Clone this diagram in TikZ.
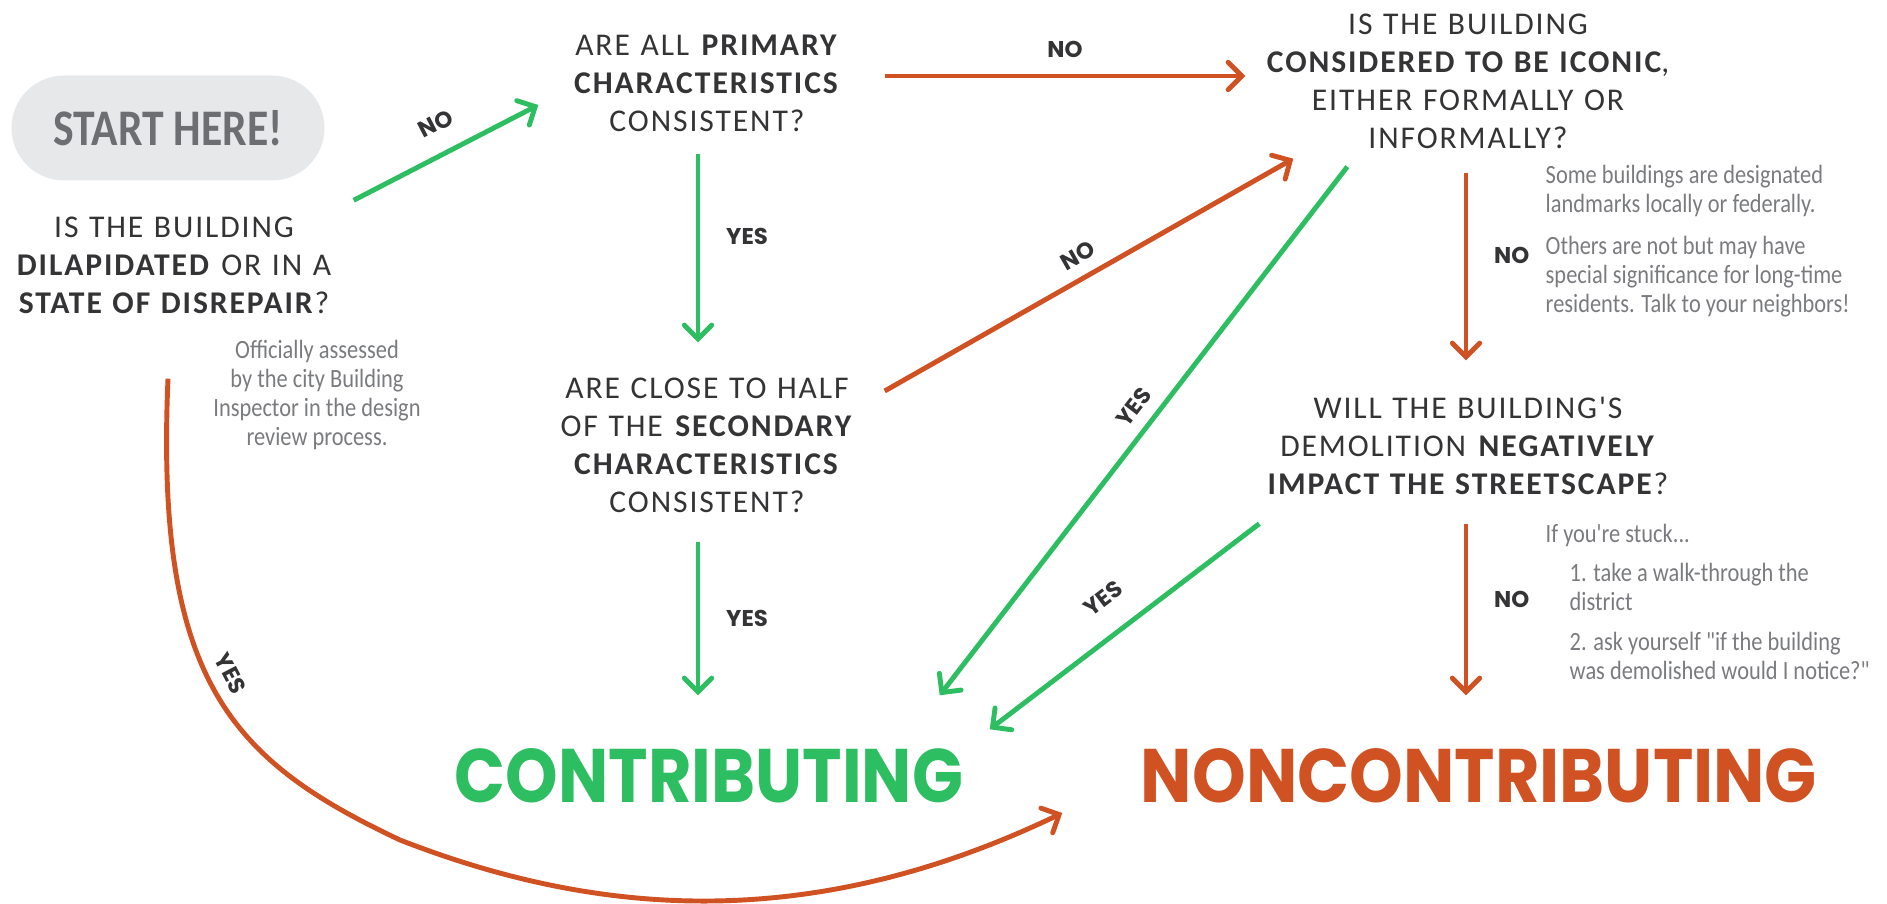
\documentclass[tikz,border=0pt]{standalone}
\usepackage{fontspec}
\usepackage{graphicx}
\setmainfont{Carlito}
\newfontfamily\qfont[LetterSpace=6]{Carlito}
\newfontfamily\notefont[FakeStretch=0.85]{Carlito}
\newfontfamily\labelfont{Poppins}
\usetikzlibrary{arrows}
\definecolor{yesgreen}{RGB}{44,190,96}
\definecolor{noorange}{RGB}{208,82,35}
\definecolor{ink}{RGB}{52,52,54}
\definecolor{notegrey}{RGB}{122,123,126}
\definecolor{startgrey}{RGB}{109,110,113}
\definecolor{pillgrey}{RGB}{231,232,234}

\begin{document}
\begin{tikzpicture}[x=0.1mm,y=-0.1mm,>=angle 90,
    question node/.style={align=center,inner sep=0pt,text=ink,font=\qfont\fontsize{9}{10.8}\selectfont},
    note node/.style={inner sep=0pt,text=notegrey,font=\notefont\fontsize{7.5}{8.2}\selectfont},
    result node/.style={inner sep=0pt,minimum height=16mm,font=\labelfont\bfseries},
    yes edge/.style={->,draw=yesgreen,line width=1.4pt},
    no edge/.style={->,draw=noorange,line width=1.4pt},
    answer/.style={font=\labelfont\bfseries\fontsize{6.5}{7}\selectfont,text=ink}]

  \useasboundingbox (0,0) rectangle (1887,904);

  \node[fill=pillgrey,rounded corners=5.25mm,minimum width=31.3mm,minimum height=10.5mm,
        text=startgrey,font=\notefont\bfseries\fontsize{14.6}{16}\selectfont] (start) at (168,128) {START HERE!};

  \node[question node,text width=35.8mm,minimum height=12.8mm] (dilap) at (174,265)
    {IS THE BUILDING\\ \textbf{DILAPIDATED} OR IN A\\ \textbf{STATE OF DISREPAIR}?};
  \node[question node,text width=35.4mm,minimum height=14mm] (primary) at (707,83)
    {ARE ALL \textbf{PRIMARY}\\ \textbf{CHARACTERISTICS}\\ CONSISTENT?};
  \node[question node,text width=35.4mm,minimum height=20.4mm] (secondary) at (707,445)
    {ARE CLOSE TO HALF\\ OF THE \textbf{SECONDARY}\\ \textbf{CHARACTERISTICS}\\ CONSISTENT?};
  \node[question node,text width=44.4mm,minimum height=18.2mm] (iconic) at (1468,81)
    {IS THE BUILDING\\ \textbf{CONSIDERED TO BE ICONIC},\\ EITHER FORMALLY OR\\ INFORMALLY?};
  \node[question node,text width=44.4mm,minimum height=17mm] (demol) at (1468,446)
    {WILL THE BUILDING'S\\ DEMOLITION \textbf{NEGATIVELY}\\ \textbf{IMPACT THE STREETSCAPE}?};

  % grey side notes
  \node[note node,align=center] (dilapnote) at (317,395)
    {Officially assessed\\ by the city Building\\ Inspector in the design\\ review process.};
  \node[note node,align=left,anchor=west] (iconicnote) at (1545,241)
    {Some buildings are designated\\ landmarks locally or federally.\\[1.4mm]
     Others are not but may have\\ special significance for long-time\\ residents. Talk to your neighbors!};
  \node[note node,align=left,anchor=west] (demolnote) at (1545,602)
    {If you're stuck...\\[1mm]
     \hspace*{2.4mm}1. take a walk-through the\\ \hspace*{2.4mm}district\\[1.2mm]
     \hspace*{2.4mm}2. ask yourself "if the building\\ \hspace*{2.4mm}was demolished would I notice?"};

  \node[result node,text=yesgreen] (contrib) at (709,776) {\resizebox{50.8mm}{5.4mm}{CONTRIBUTING}};
  \node[result node,text=noorange] (noncontrib) at (1479,776) {\resizebox{67.6mm}{5.4mm}{NONCONTRIBUTING}};

  \path
    (dilap.north east) edge[yes edge] node[answer,sloped,above=0.8mm,pos=.52] {NO} ([shift={(9,22)}]primary.west)
    ([shift={(0,-7)}]primary.east) edge[no edge] node[answer,above=0.4mm] {NO} ([shift={(0,-5)}]iconic.west)
    ([shift={(-9,0)}]primary.south) edge[yes edge] node[answer,right=1.4mm,pos=.44] {YES} ([shift={(-9,0)}]secondary.north)
    ([shift={(0,-54)}]secondary.east) edge[no edge] node[answer,sloped,above] {NO} ([shift={(48,-14)}]iconic.south west)
    ([shift={(-9,-6)}]secondary.south) edge[yes edge] node[answer,right=1.4mm] {YES} ([shift={(-11,0)}]contrib.north)
    ([shift={(102,-6)}]iconic.south west) edge[yes edge] node[answer,sloped,above,pos=.48] {YES} ([shift={(-24,0)}]contrib.north east)
    ([shift={(-2,0)}]iconic.south) edge[no edge] node[answer,right=1.4mm,pos=.44] {NO} ([shift={(-2,0)}]demol.north)
    ([shift={(14,-8)}]demol.south west) edge[yes edge] node[answer,sloped,above=1.3mm] {YES} ([shift={(26,34)}]contrib.north east)
    ([shift={(-2,-8)}]demol.south) edge[no edge] node[answer,right=1.4mm,pos=.44] {NO} ([shift={(-13,0)}]noncontrib.north);

  \draw[no edge] ([shift={(-6,49)}]dilap.south) .. controls (155,680) and (230,760) .. (400,840)
      node[answer,sloped,above,pos=.48] {YES}
    .. controls (600,918) and (813,933) .. ([shift={(-78,37)}]noncontrib.west);
\end{tikzpicture}
\end{document}
